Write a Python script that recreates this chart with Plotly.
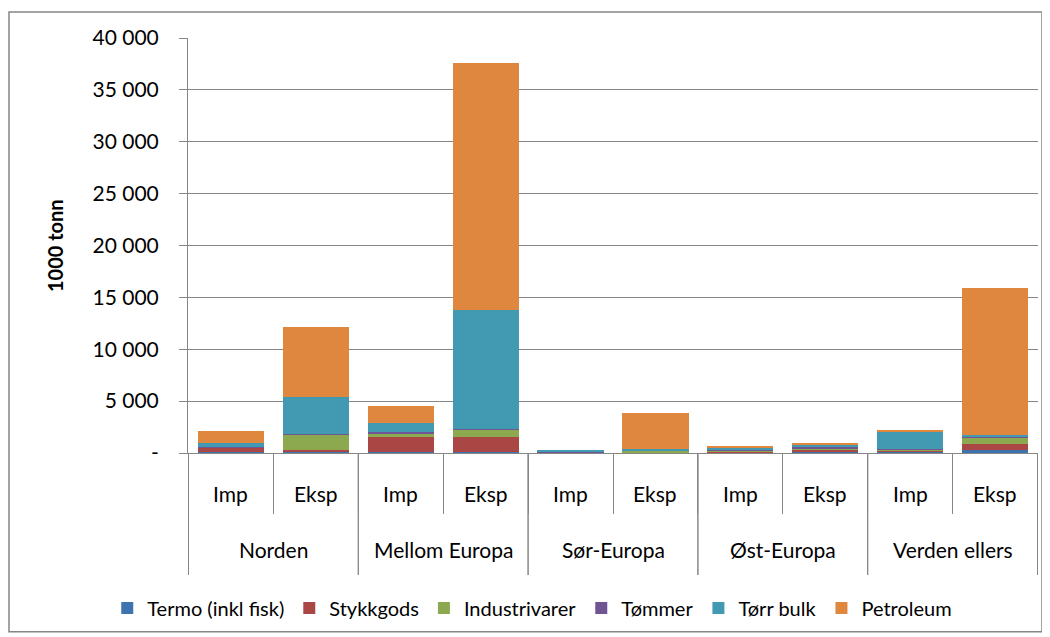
import plotly.graph_objects as go

regions = ["Norden", "Mellom Europa", "Sør-Europa", "Øst-Europa", "Verden ellers"]
flows = ["Imp", "Eksp"]

# 1000 tonn per bar, order: Norden Imp, Norden Eksp, Mellom Imp, Mellom Eksp, ...
termo = [100, 50, 50, 50, 20, 30, 50, 150, 50, 300]
stykkgods = [400, 200, 1450, 1500, 30, 50, 100, 150, 200, 600]
industrivarer = [50, 1500, 400, 700, 20, 180, 100, 150, 100, 600]
tommer = [30, 50, 150, 50, 10, 0, 50, 100, 50, 50]
torr_bulk = [400, 3550, 870, 11500, 220, 150, 200, 200, 1650, 200]
petroleum = [1100, 6800, 1600, 23800, 0, 3400, 100, 200, 200, 14150]

series = [
    ("Termo (inkl fisk)", termo, "#3F73AE"),
    ("Stykkgods", stykkgods, "#AA4644"),
    ("Industrivarer", industrivarer, "#8CA94F"),
    ("Tømmer", tommer, "#6F5592"),
    ("Tørr bulk", torr_bulk, "#4299B2"),
    ("Petroleum", petroleum, "#E0873F"),
]

y_ticks = [0, 5000, 10000, 15000, 20000, 25000, 30000, 35000, 40000]
y_labels = ["-"] + [f"{v:,}".replace(",", " ") for v in y_ticks[1:]]

cats = [r + " " + f for r in regions for f in flows]
inner = [f for r in regions for f in flows]

GRAY = "#868686"
FS = 21

fig = go.Figure()
for name, vals, col in series:
    fig.add_trace(go.Bar(x=cats, y=vals, name=name,
                         marker=dict(color=col, line=dict(width=0))))

ann = []
for c, lab in zip(cats, inner):
    ann.append(dict(x=c, y=-0.0964, xref="x", yref="paper", text=lab,
                    showarrow=False, yanchor="middle", font=dict(size=FS)))
shapes = []
for i, r in enumerate(regions):
    ann.append(dict(x=2 * i + 0.5, y=-0.2337, xref="x", yref="paper", text=r,
                    showarrow=False, yanchor="middle", font=dict(size=FS)))
    for xb in (2 * i - 0.5, 2 * i + 1.5):
        shapes.append(dict(type="line", xref="x", yref="paper", x0=xb, x1=xb,
                           y0=0, y1=-0.294, line=dict(color=GRAY, width=1)))
ann.append(dict(x=-0.157, y=0.5, xref="paper", yref="paper", text="<b>1000 tonn</b>",
                textangle=-90, showarrow=False, xanchor="center", yanchor="middle",
                font=dict(size=FS - 1)))
shapes.append(dict(type="rect", xref="paper", yref="paper",
                   x0=-0.2106, x1=1.0047, y0=-0.431, y1=1.0627,
                   line=dict(color=GRAY, width=1.5)))

# page body has an 8px margin, so the figure is 8px smaller and offset
fig.update_layout(
    barmode="stack",
    bargap=0.22,
    width=1042, height=629,
    margin=dict(l=180, r=12, t=30, b=184, autoexpand=False),
    paper_bgcolor="white", plot_bgcolor="white",
    font=dict(family="Lato", size=FS, color="black"),
    legend=dict(orientation="h", x=0.405, y=-0.3735, yanchor="middle",
                xanchor="center", font=dict(size=20), itemwidth=30,
                traceorder="normal"),
    annotations=ann,
    shapes=shapes,
)
fig.update_yaxes(range=[0, 40000], tickvals=y_ticks, ticktext=y_labels,
                 showgrid=True, gridcolor=GRAY, gridwidth=1,
                 showline=True, linecolor=GRAY, ticks="outside",
                 tickcolor=GRAY, ticklen=8, ticklabelstandoff=16,
                 zeroline=False, automargin=False)
fig.update_xaxes(showline=True, linecolor=GRAY, showticklabels=False,
                 tickson="boundaries", ticks="outside", tickcolor=GRAY,
                 ticklen=60, showgrid=False, automargin=False)

fig.write_html("out.html")
